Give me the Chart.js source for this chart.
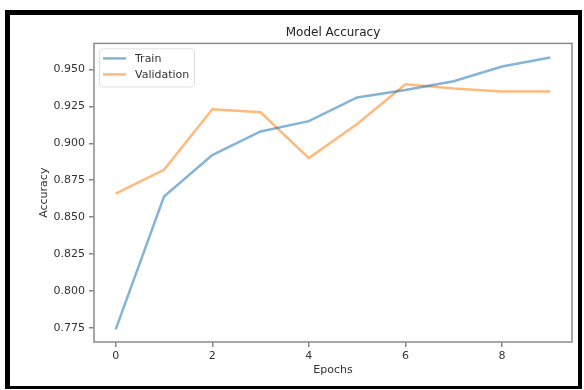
<!DOCTYPE html>
<html>
<head>
<meta charset="utf-8">
<script src="https://cdn.jsdelivr.net/npm/chart.js@4.4.0/dist/chart.umd.min.js"></script>
<style>
  html, body { margin: 0; padding: 0; background: #fff; }
  #wrap { position: relative; width: 584px; height: 390px; }
  #frame {
    position: absolute; left: 5px; top: 10px; width: 577px; height: 379px;
    box-sizing: border-box; border-style: solid; border-color: #000;
    border-width: 5px 4px 3px 5px; pointer-events: none;
  }
</style>
</head>
<body>
<div id="wrap">
  <canvas id="acc" width="584" height="390"></canvas>
  <div id="frame"></div>
</div>
<script>
// data
const epochs = [0, 1, 2, 3, 4, 5, 6, 7, 8, 9];
const trainAcc = [0.774, 0.864, 0.892, 0.908, 0.915, 0.931, 0.936, 0.942, 0.952, 0.958];
const valAcc = [0.866, 0.882, 0.923, 0.921, 0.890, 0.913, 0.940, 0.937, 0.935, 0.935];
const xTicks = [0, 2, 4, 6, 8];
const yTicks = [0.775, 0.800, 0.825, 0.850, 0.875, 0.900, 0.925, 0.950];

const FONT = "'DejaVu Sans', sans-serif";
const blue = "rgba(31,119,180,0.55)";
const orange = "rgba(255,127,14,0.55)";

// draws the box round the axes and the legend inside it
const framePlugin = {
    id: "framePlugin",
    afterDraw(chart) {
        const { ctx, chartArea: a } = chart;
        ctx.save();
        ctx.strokeStyle = "#8a8a8a";
        ctx.lineWidth = 1.5;
        ctx.strokeRect(a.left, a.top, a.right - a.left, a.bottom - a.top);

        // legend
        const x = a.left + 5, y = a.top + 5, w = 95, h = 38;
        ctx.fillStyle = "rgba(255,255,255,0.8)";
        ctx.strokeStyle = "#dedede";
        ctx.lineWidth = 1;
        ctx.beginPath();
        ctx.roundRect(x + 0.5, y + 0.5, w, h, 3);
        ctx.fill();
        ctx.stroke();

        ctx.font = "11px " + FONT;
        ctx.textBaseline = "middle";
        chart.data.datasets.forEach((ds, i) => {
            const ly = y + 10 + i * 16;
            ctx.strokeStyle = ds.borderColor;
            ctx.lineWidth = 2.5;
            ctx.beginPath();
            ctx.moveTo(x + 4, ly);
            ctx.lineTo(x + 27, ly);
            ctx.stroke();
            ctx.fillStyle = "#333";
            ctx.fillText(ds.label, x + 36, ly + 1);
        });
        ctx.restore();
    }
};

new Chart(document.getElementById("acc"), {
    type: "line",
    data: {
        datasets: [
            {
                label: "Train",
                data: epochs.map((e, i) => ({ x: e, y: trainAcc[i] })),
                borderColor: blue,
                borderWidth: 2.5,
                pointRadius: 0,
                tension: 0
            },
            {
                label: "Validation",
                data: epochs.map((e, i) => ({ x: e, y: valAcc[i] })),
                borderColor: orange,
                borderWidth: 2.5,
                pointRadius: 0,
                tension: 0
            }
        ]
    },
    options: {
        responsive: false,
        animation: false,
        layout: { padding: { left: 0, right: 12, top: 0, bottom: 0 } },
        plugins: {
            legend: { display: false },
            tooltip: { enabled: false },
            title: {
                display: true,
                fullSize: false,
                text: "Model Accuracy",
                color: "#222",
                font: { family: FONT, size: 12, weight: "normal", lineHeight: 1.2 },
                padding: { top: 26, bottom: 3 }
            }
        },
        scales: {
            x: {
                type: "linear",
                min: -0.45,
                max: 9.45,
                afterBuildTicks: s => { s.ticks = xTicks.map(v => ({ value: v })); },
                afterFit: s => { s.height = 48; },
                grid: { drawOnChartArea: false, tickLength: 5, tickColor: "#888", lineWidth: 1.5 },
                border: { display: false },
                ticks: { color: "#333", padding: 3, font: { family: FONT, size: 11 } },
                title: {
                    display: true,
                    text: "Epochs",
                    color: "#333",
                    font: { family: FONT, size: 11 },
                    padding: { top: 0, bottom: 13 }
                }
            },
            y: {
                min: 0.7655,
                max: 0.9676,
                afterBuildTicks: s => { s.ticks = yTicks.map(v => ({ value: v })); },
                afterFit: s => { s.width = 94; },
                grid: { drawOnChartArea: false, tickLength: 5, tickColor: "#888", lineWidth: 1.5 },
                border: { display: false },
                ticks: {
                    color: "#333",
                    padding: 4,
                    font: { family: FONT, size: 11 },
                    callback: v => v.toFixed(3)
                },
                title: {
                    display: true,
                    text: "Accuracy",
                    color: "#333",
                    font: { family: FONT, size: 11 },
                    padding: { top: 38, bottom: 0 }
                }
            }
        }
    },
    plugins: [framePlugin]
});
</script>
</body>
</html>
